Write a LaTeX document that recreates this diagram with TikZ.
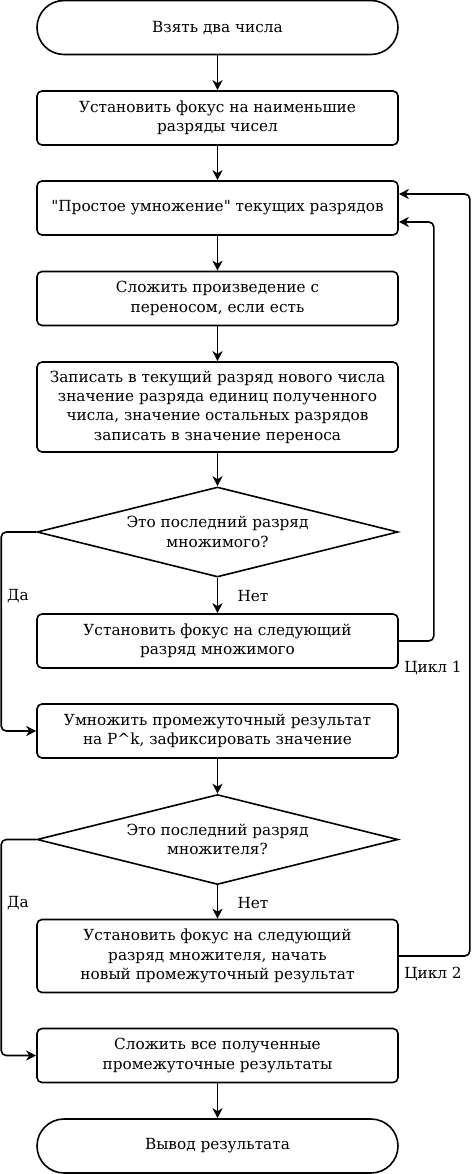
\documentclass[tikz,border=0pt]{standalone}
\usepackage{fontspec}
\setmainfont{DejaVu Serif}
\usetikzlibrary{arrows.meta,shapes.geometric}

\begin{document}
\begin{tikzpicture}[x=1pt,y=-1pt,>={Stealth[length=10pt,width=10pt,inset=3pt]},line width=1.6pt,
    every node/.style={font=\fontsize{15.3}{19.3}\selectfont,align=center},
    box/.style={draw,rounded corners=5pt,minimum width=361pt,inner sep=0pt},
    term/.style={draw,rounded corners=27pt,minimum width=361pt,minimum height=54pt},
    decision/.style={draw,diamond,aspect=4,inner sep=0pt,minimum width=361pt,minimum height=90pt},
    lbl/.style={font=\fontsize{15.3}{17}\selectfont}]
    \useasboundingbox (0,0) rectangle (471,1174);
		%Bloecke
    \node[term] (start) at (217.5,27.5) {Взять два числа};
    \node[box,minimum height=54pt] (focus) at (217.5,118) {Установить фокус на наименьшие\\разряды чисел};
    \node[box,minimum height=54pt] (mult) at (217.5,208) {\textquotedbl Простое умножение\textquotedbl{} текущих разрядов};
    \node[box,minimum height=54pt] (add) at (217.5,298.5) {Сложить произведение с\\переносом, если есть};
    \node[box,minimum height=90pt] (write) at (217.5,407) {Записать в текущий разряд нового числа\\значение разряда единиц полученного\\числа, значение остальных разрядов\\записать в значение переноса};
    \node[decision] (last1) at (217.5,532) {Это последний разряд\\множимого?};
    \node[box,minimum height=54pt] (next1) at (217.5,641) {Установить фокус на следующий\\разряд множимого};
    \node[box,minimum height=54pt] (shift) at (217.5,731) {Умножить промежуточный результат\\на P\^{}k, зафиксировать значение};
    \node[decision] (last2) at (217.5,839.5) {Это последний разряд\\множителя?};
    \node[box,minimum height=73pt] (next2) at (217.5,956) {Установить фокус на следующий\\разряд множителя, начать\\новый промежуточный результат};
    \node[box,minimum height=54pt] (sum) at (217.5,1055.5) {Сложить все полученные\\промежуточные результаты};
    \node[term] (stop) at (217.5,1146) {Вывод результата};
		%Pfeile
    \foreach \a/\b in {start/focus,focus/mult,mult/add,add/write,write/last1,last1/next1,shift/last2,last2/next2,sum/stop}
      \draw[->] (\a) -- (\b);
    \draw[->,rounded corners=5pt] (next1.east) -- ++(35,0) |- ([yshift=-14pt]mult.east);
    \draw[->,rounded corners=5pt] (next2.east) -- ++(71,0) |- ([yshift=14pt]mult.east);
    \draw[->,rounded corners=5pt] (last1.west) -- ++(-35,0) |- (shift.west);
    \draw[->,rounded corners=5pt] (last2.west) -- ++(-35,0) |- (sum.west);
		%Beschriftung
    \foreach \n/\x/\y/\t in {da1/18/596/Да,net1/253/596/Нет,da2/18/903/Да,net2/253/903/Нет,c1/433/668/Цикл 1,c2/433/974/Цикл 2}
      \node[lbl] (\n) at (\x,\y) {\t};
\end{tikzpicture}
\end{document}
